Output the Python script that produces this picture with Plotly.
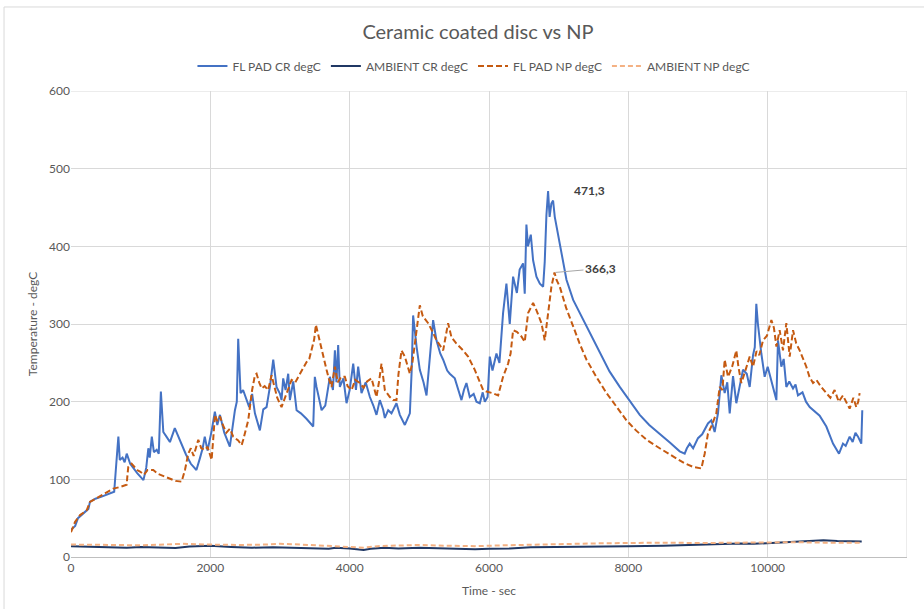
import plotly.graph_objects as go

# ---- Brake temperature logs (time in seconds, temperature in degC) ----
fl_pad_cr_t = [0, 60, 100, 180, 250, 272, 350, 450, 550, 620, 650, 680, 700, 740, 770, 800, 850, 950,
               1040, 1080, 1110, 1130, 1160, 1190, 1230, 1260, 1290, 1325, 1370, 1420, 1490, 1560, 1650,
               1720, 1800, 1850, 1890, 1920, 1960, 2020, 2065, 2100, 2138, 2200, 2280, 2353, 2380, 2400,
               2434, 2470, 2496, 2558, 2600, 2640, 2711, 2760, 2807, 2855, 2903, 2950, 3000, 3022, 3046,
               3080, 3118, 3142, 3190, 3238, 3300, 3380, 3477, 3500, 3524, 3597, 3650, 3716, 3760, 3788,
               3810, 3835, 3859, 3910, 3955, 4000, 4051, 4090, 4122, 4170, 4230, 4290, 4340, 4385, 4433,
               4480, 4505, 4553, 4600, 4672, 4720, 4792, 4864, 4890, 4911, 4935, 4960, 5007, 5060, 5103,
               5150, 5198, 5246, 5300, 5342, 5400, 5437, 5485, 5509, 5560, 5605, 5640, 5676, 5724, 5780,
               5820, 5868, 5910, 5940, 5980, 6011, 6050, 6107, 6150, 6202, 6250, 6298, 6346, 6400, 6440,
               6489, 6513, 6537, 6560, 6600, 6633, 6681, 6730, 6777, 6800, 6824, 6848, 6870, 6895, 6920,
               6944, 6980, 7016, 7112, 7208, 7303, 7450, 7590, 7730, 7877, 8020, 8164, 8300, 8451, 8600,
               8737, 8809, 8840, 8881, 8930, 9000, 9060, 9100, 9143, 9191, 9239, 9287, 9335, 9383, 9420,
               9455, 9503, 9550, 9600, 9646, 9700, 9742, 9790, 9815, 9837, 9860, 9909, 9957, 10000, 10053,
               10125, 10148, 10196, 10230, 10268, 10310, 10364, 10400, 10435, 10500, 10550, 10603, 10680,
               10746, 10842, 10938, 11024, 11081, 11120, 11177, 11220, 11260, 11297, 11344, 11358]
fl_pad_cr_v = [35, 40, 50, 56, 62, 71, 75, 78, 81, 84, 120, 155, 125, 128, 122, 133, 120, 108,
               99, 115, 140, 128, 155, 135, 138, 133, 213, 161, 155, 148, 166, 150, 132,
               120, 112, 127, 140, 155, 137, 163, 187, 170, 183, 160, 142, 189, 200, 281,
               211, 215, 208, 193, 210, 185, 163, 190, 193, 219, 254, 219, 210, 202, 230,
               215, 236, 202, 226, 189, 185, 178, 168, 232, 219, 189, 195, 232, 215, 266,
               225, 273, 219, 230, 198, 215, 249, 215, 245, 211, 225, 206, 195, 183, 202,
               190, 179, 189, 185, 198, 183, 170, 185, 240, 311, 290, 271, 241, 225, 208,
               258, 305, 279, 262, 254, 240, 236, 232, 230, 215, 202, 215, 224, 206, 210,
               200, 198, 212, 200, 206, 258, 240, 262, 250, 314, 352, 300, 361, 340, 370,
               378, 339, 428, 400, 415, 382, 361, 352, 348, 380, 440, 471.3, 438, 455, 459,
               438, 420, 404, 357, 331, 314, 287, 262, 239, 219, 201, 183, 170, 159, 147,
               136, 133, 140, 146, 140, 153, 158, 164, 172, 176, 161, 185, 234, 211, 225,
               185, 233, 198, 220, 241, 236, 219, 260, 270, 326, 300, 262, 232, 245, 228,
               202, 279, 245, 255, 219, 226, 217, 222, 208, 212, 200, 193, 187,
               182, 168, 146, 133, 146, 143, 155, 148, 160, 155, 146, 189]

fl_pad_np_t = [0, 57, 130, 225, 272, 350, 416, 500, 607, 700, 799, 810, 822, 870, 918, 950, 990, 1050,
               1100, 1181, 1250, 1330, 1420, 1500, 1588, 1636, 1683, 1720, 1760, 1827, 1870, 1922, 1960,
               2018, 2040, 2066, 2100, 2138, 2180, 2230, 2280, 2329, 2400, 2449, 2472, 2510, 2544, 2568,
               2600, 2640, 2664, 2700, 2736, 2780, 2830, 2879, 2920, 2960, 3022, 3070, 3120, 3166, 3220,
               3286, 3330, 3381, 3420, 3453, 3490, 3515, 3550, 3597, 3630, 3668, 3700, 3740, 3788, 3830,
               3880, 3931, 3970, 4027, 4080, 4146, 4200, 4250, 4314, 4385, 4420, 4457, 4505, 4577, 4624,
               4672, 4700, 4744, 4792, 4864, 4900, 4935, 4983, 5007, 5050, 5127, 5190, 5246, 5300, 5342,
               5380, 5413, 5461, 5530, 5628, 5700, 5796, 5860, 5916, 5964, 6050, 6131, 6202, 6274, 6310,
               6346, 6400, 6465, 6513, 6561, 6633, 6680, 6753, 6800, 6848, 6896, 6940, 6968, 7016, 7110,
               7208, 7300, 7400, 7540, 7687, 7830, 7973, 8110, 8260, 8450, 8642, 8800, 8929, 9048, 9096,
               9143, 9200, 9263, 9311, 9350, 9383, 9431, 9490, 9550, 9580, 9622, 9680, 9742, 9790, 9840,
               9880, 9933, 9990, 10053, 10090, 10125, 10172, 10220, 10268, 10316, 10364, 10410, 10459,
               10555, 10600, 10651, 10700, 10760, 10842, 10900, 10961, 11020, 11080, 11177, 11230, 11272,
               11300, 11320]
fl_pad_np_v = [32, 45, 54, 60, 71, 75, 78, 82, 88, 90, 93, 105, 116, 120, 116, 112, 110, 106,
               112, 112, 107, 104, 101, 98, 97, 112, 133, 140, 130, 151, 140, 138, 142,
               125, 150, 183, 175, 181, 170, 160, 165, 155, 150, 144, 151, 165, 176, 193,
               215, 234, 236, 225, 217, 220, 215, 234, 220, 205, 193, 205, 218, 228, 225,
               236, 243, 251, 255, 266, 280, 299, 285, 266, 255, 241, 230, 219, 245, 225,
               232, 232, 220, 215, 228, 224, 218, 226, 230, 206, 225, 249, 215, 206, 202,
               202, 235, 266, 258, 236, 250, 275, 314, 324, 310, 301, 290, 279, 272, 266,
               285, 301, 283, 275, 266, 258, 241, 226, 215, 213, 211, 208, 232, 249, 262,
               292, 290, 284, 277, 314, 327, 318, 301, 279, 314, 348, 366.3, 357, 348, 320,
               297, 275, 254, 232, 211, 193, 176, 163, 151, 140, 129, 121, 116, 114, 133,
               159, 170, 185, 219, 215, 254, 232, 245, 266, 245, 224, 240, 258, 245, 265,
               260, 279, 285, 305, 295, 271, 292, 266, 301, 258, 292, 275, 266,
               245, 232, 224, 228, 220, 211, 205, 215, 200, 208, 191, 205, 193,
               200, 211]

ambient_cr_t = [0, 300, 600, 800, 1000, 1300, 1500, 1700, 2000, 2300, 2600, 2900, 3200, 3500, 3700,
                3800, 4000, 4200, 4300, 4500, 4700, 5000, 5200, 5500, 5800, 6000, 6300, 6600, 6900,
                7200, 7600, 8000, 8500, 9000, 9300, 9600, 9800, 10000, 10300, 10600, 10800, 11000, 11350]
ambient_cr_v = [14, 13.5, 13, 12, 13, 12.5, 11.5, 13.5, 14.5, 13, 12, 12.5, 12, 11.5, 10.5,
                12, 11, 9, 10.5, 12, 11, 12, 11.5, 11, 10, 10.5, 11, 12.5, 13,
                13.5, 13.5, 14, 14.5, 16, 17, 17.5, 17, 18, 19.5, 21, 21.5, 20.5, 20]

ambient_np_t = [0, 300, 600, 1000, 1400, 1600, 2000, 2400, 2800, 3000, 3300, 3600, 4000, 4200, 4400,
                4700, 5000, 5400, 5800, 6200, 6600, 7000, 7500, 8000, 8500, 9000, 9500, 9800, 10000,
                10400, 10800, 11350]
ambient_np_v = [16, 16, 15.5, 15, 16, 17, 16, 15.5, 16, 17, 16, 14.5, 12.5, 12, 14,
                15, 15.5, 14.5, 14, 15, 16, 16.5, 17.5, 18, 18.5, 18, 18.5, 18, 19,
                19, 18.5, 18.5]

x_ticks = [0, 2000, 4000, 6000, 8000, 10000, 12000]
y_ticks = [0, 100, 200, 300, 400, 500, 600]

FONT = "Lato, 'Open Sans', sans-serif"
GRID = "#D9D9D9"
TEXT = "#595959"

fig = go.Figure()
fig.add_trace(go.Scatter(x=fl_pad_cr_t, y=fl_pad_cr_v, mode="lines", name="FL PAD CR degC",
                         line=dict(color="#4472C4", width=2)))
fig.add_trace(go.Scatter(x=ambient_cr_t, y=ambient_cr_v, mode="lines", name="AMBIENT CR degC",
                         line=dict(color="#203864", width=2)))
fig.add_trace(go.Scatter(x=fl_pad_np_t, y=fl_pad_np_v, mode="lines", name="FL PAD NP degC",
                         line=dict(color="#C55A11", width=2, dash="6px,3px")))
fig.add_trace(go.Scatter(x=ambient_np_t, y=ambient_np_v, mode="lines", name="AMBIENT NP degC",
                         line=dict(color="#F4B183", width=2, dash="5px,3px")))

# Peak value labels
cr_i = fl_pad_cr_v.index(max(fl_pad_cr_v))
np_i = fl_pad_np_v.index(max(fl_pad_np_v))
fmt = lambda v: f"{v:.1f}".replace(".", ",")
fig.add_annotation(x=fl_pad_cr_t[cr_i], y=fl_pad_cr_v[cr_i], text=f"<b>{fmt(fl_pad_cr_v[cr_i])}</b>",
                   showarrow=False, xanchor="left", yanchor="middle", xshift=24,
                   font=dict(family=FONT, size=12, color="#404040"))
fig.add_annotation(x=fl_pad_np_t[np_i], y=fl_pad_np_v[np_i], text=f"<b>{fmt(fl_pad_np_v[np_i])}</b>",
                   showarrow=True, arrowhead=0, arrowwidth=1, arrowcolor="#A6A6A6",
                   ax=46, ay=-4, standoff=1,
                   font=dict(family=FONT, size=12, color="#404040"))

# Chart-area frame
fig.add_shape(type="rect", xref="paper", yref="paper",
              x0=-0.0801, x1=1.05, y0=-0.15, y1=1.1803,
              line=dict(color=GRID, width=1), fillcolor="rgba(0,0,0,0)", layer="below")

fig.update_layout(
    width=924, height=609,
    margin=dict(l=71, r=17, t=91, b=52),
    paper_bgcolor="white", plot_bgcolor="white",
    font=dict(family=FONT, color=TEXT),
    title=dict(text="Ceramic coated disc vs NP", x=478 / 924, xanchor="center",
               y=1 - 32 / 609, yanchor="middle",
               font=dict(family=FONT, size=20, color=TEXT)),
    legend=dict(orientation="h", x=0.482, xanchor="center", y=1.0536, yanchor="middle",
                font=dict(family=FONT, size=12, color=TEXT), bgcolor="rgba(0,0,0,0)",
                itemwidth=30, tracegroupgap=0),
    showlegend=True,
)
fig.update_xaxes(range=[0, 12000], tickvals=x_ticks, ticktext=[str(v) for v in x_ticks],
                 showgrid=True, gridcolor=GRID, gridwidth=1, zeroline=False,
                 showline=True, linecolor="#BFBFBF", linewidth=1, mirror=False,
                 ticks="", tickfont=dict(family=FONT, size=12, color=TEXT),
                 title=dict(text="Time - sec", font=dict(family=FONT, size=12, color=TEXT), standoff=12))
fig.update_yaxes(range=[0, 600], tickvals=y_ticks, ticktext=[str(v) for v in y_ticks],
                 showgrid=True, gridcolor=GRID, gridwidth=1, zeroline=False,
                 showline=False, ticks="", tickfont=dict(family=FONT, size=12, color=TEXT),
                 title=dict(text="Temperature - degC", font=dict(family=FONT, size=12, color=TEXT),
                            standoff=8))
# Gridlines on the right and top edges of the plot area
fig.add_shape(type="line", xref="x", yref="paper", x0=12000, x1=12000, y0=0, y1=1,
              line=dict(color=GRID, width=1), layer="below")
fig.add_shape(type="line", xref="paper", yref="y", x0=0, x1=1, y0=600, y1=600,
              line=dict(color=GRID, width=1), layer="below")

fig.write_html("out.html")
